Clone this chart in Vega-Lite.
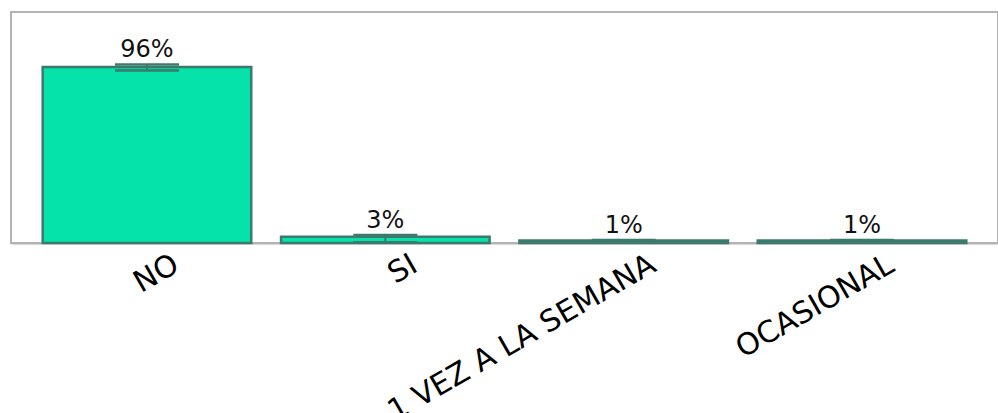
{
  "$schema": "https://vega.github.io/schema/vega-lite/v6.json",
  "autosize": "none",
  "width": 987,
  "height": 231,
  "padding": {"left": 11, "top": 12, "right": 0, "bottom": 170},
  "background": "white",
  "config": {
    "view": {"stroke": "#b3b3b3", "strokeWidth": 2},
    "font": "DejaVu Sans"
  },
  "data": {
    "values": [
      {"cat": "NO", "pct": 96, "lo": 94.1, "hi": 97.4, "label": "96%"},
      {"cat": "SI", "pct": 3.4, "lo": 0.4, "hi": 4.4, "label": "3%"},
      {"cat": "1 VEZ A LA SEMANA", "pct": 1.3, "lo": 0.4, "hi": 1.6, "label": "1%"},
      {"cat": "OCASIONAL", "pct": 1.3, "lo": 0.4, "hi": 1.6, "label": "1%"}
    ]
  },
  "encoding": {
    "x": {
      "field": "cat",
      "type": "nominal",
      "sort": null,
      "scale": {"paddingInner": 0.125, "paddingOuter": 0.133},
      "axis": {
        "title": null,
        "labelAngle": -30,
        "labelFontSize": 30,
        "labelColor": "#000",
        "labelFont": "DejaVu Sans",
        "labelOffset": 22,
        "labelPadding": 6,
        "labelLimit": 0,
        "ticks": false,
        "domainColor": "#b3b3b3",
        "domainWidth": 2,
        "labelOverlap": false
      }
    }
  },
  "layer": [
    {
      "mark": {"type": "bar", "fill": "#06e3aa", "stroke": "#3b7a6c", "strokeWidth": 2.5},
      "encoding": {
        "y": {"field": "pct", "type": "quantitative", "scale": {"domain": [0, 126], "nice": false}, "axis": null}
      }
    },
    {
      "mark": {"type": "rule", "color": "#3b7a6c", "strokeWidth": 2},
      "encoding": {
        "y": {"field": "lo", "type": "quantitative"},
        "y2": {"field": "hi"}
      }
    },
    {
      "mark": {"type": "tick", "color": "#3b7a6c", "thickness": 2.5, "size": 64, "opacity": 1},
      "encoding": {"y": {"field": "lo", "type": "quantitative"}}
    },
    {
      "mark": {"type": "tick", "color": "#3b7a6c", "thickness": 2.5, "size": 64, "opacity": 1},
      "encoding": {"y": {"field": "hi", "type": "quantitative"}}
    },
    {
      "mark": {"type": "text", "baseline": "alphabetic", "dy": -7, "fontSize": 24, "color": "#111", "font": "DejaVu Sans"},
      "encoding": {
        "y": {"field": "hi", "type": "quantitative"},
        "text": {"field": "label"}
      }
    }
  ]
}
